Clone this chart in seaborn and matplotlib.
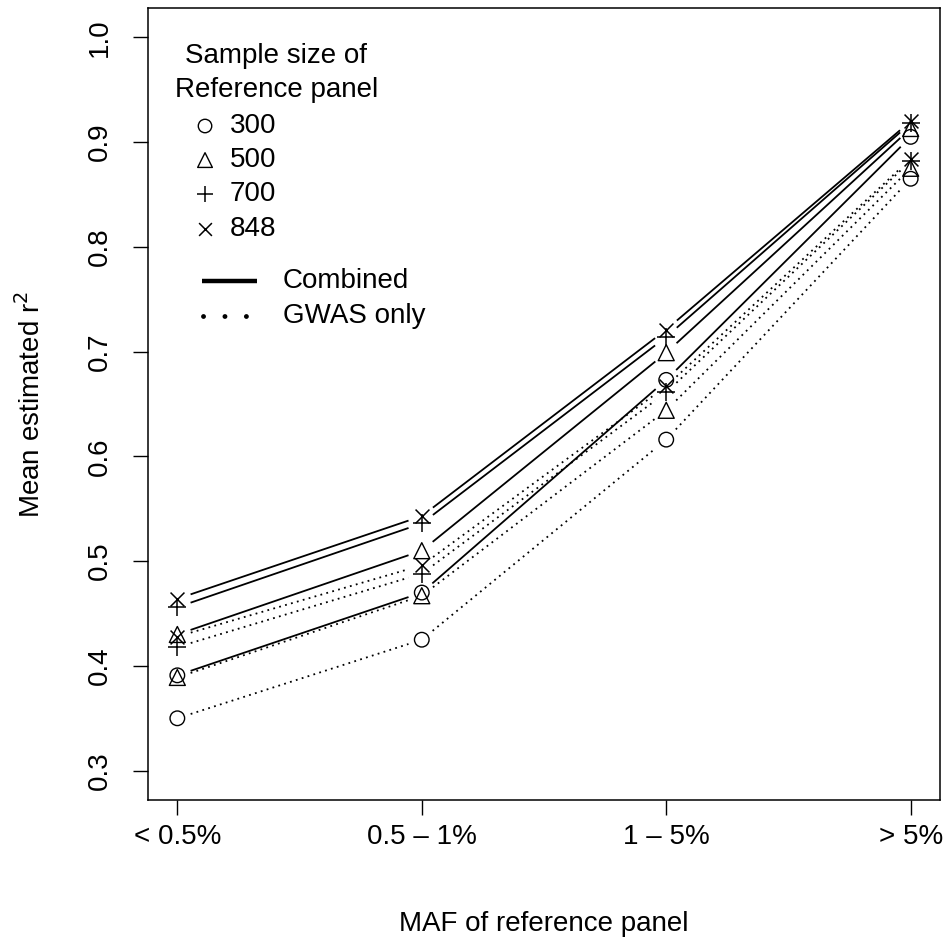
import numpy as np
import pandas as pd
import matplotlib
matplotlib.use("Agg")
import matplotlib.pyplot as plt
import seaborn as sns

# MAF classes of the reference panel and reference-panel sample sizes
maf_labels = ["< 0.5%", "0.5 \u2013 1%", "1 \u2013 5%", "> 5%"]
panel_sizes = [300, 500, 700, 848]

# Mean estimated r^2, imputation with combined panel
combined_300 = [0.391, 0.470, 0.673, 0.905]
combined_500 = [0.430, 0.510, 0.699, 0.913]
combined_700 = [0.456, 0.536, 0.714, 0.918]
combined_848 = [0.464, 0.543, 0.721, 0.920]

# Mean estimated r^2, GWAS samples only
gwas_300 = [0.350, 0.425, 0.616, 0.865]
gwas_500 = [0.389, 0.467, 0.644, 0.875]
gwas_700 = [0.418, 0.488, 0.661, 0.882]
gwas_848 = [0.428, 0.496, 0.667, 0.884]

combined = {300: combined_300, 500: combined_500, 700: combined_700, 848: combined_848}
gwas = {300: gwas_300, 500: gwas_500, 700: gwas_700, 848: gwas_848}

rows = []
for n in panel_sizes:
    for i, lab in enumerate(maf_labels):
        rows.append({"maf": i + 1, "size": n, "method": "Combined", "r2": combined[n][i]})
        rows.append({"maf": i + 1, "size": n, "method": "GWAS only", "r2": gwas[n][i]})
df = pd.DataFrame(rows)

sns.set_style("ticks")
plt.rcParams["font.family"] = ["Liberation Sans", "DejaVu Sans"]
plt.rcParams.update({"text.color": "black", "axes.labelcolor": "black",
                     "xtick.color": "black", "ytick.color": "black"})

W, H = 949, 943
fig = plt.figure(figsize=(W / 100, H / 100), dpi=100)
ax = fig.add_axes([148 / W, 1 - 800 / H, 792 / W, 792 / H])
ax.set_xlim(0.88, 4.12)
ax.set_ylim(0.272, 1.028)

marker_style = {
    300: dict(marker="o", s=10.5 ** 2, facecolors="none", edgecolors="black", linewidths=1.0),
    500: dict(marker="^", s=11.5 ** 2, facecolors="none", edgecolors="black", linewidths=1.0),
    700: dict(marker="+", s=13 ** 2, color="black", linewidths=1.1),
    848: dict(marker="x", s=10 ** 2, color="black", linewidths=1.1),
}


def gapped_line(xs, ys, gap_px, **kw):
    """Line through the points, leaving a gap around each point (R type='b')."""
    pts = ax.transData.transform(np.column_stack([xs, ys]))
    inv = ax.transData.inverted()
    for p0, p1 in zip(pts[:-1], pts[1:]):
        d = p1 - p0
        u = d / np.hypot(*d)
        seg = inv.transform(np.vstack([p0 + u * gap_px, p1 - u * gap_px]))
        ax.plot(seg[:, 0], seg[:, 1], color="black", **kw)


for n in panel_sizes:
    sub_c = df[(df["size"] == n) & (df["method"] == "Combined")]
    sub_g = df[(df["size"] == n) & (df["method"] == "GWAS only")]
    gapped_line(sub_c["maf"].values, sub_c["r2"].values, 14, lw=1.3, solid_capstyle="butt")
    gapped_line(sub_g["maf"].values, sub_g["r2"].values, 14, lw=1.3, linestyle=(0, (1, 2.4)))
    sub = df[df["size"] == n]
    sns.scatterplot(data=sub, x="maf", y="r2", ax=ax, legend=False, zorder=3,
                    **marker_style[n])

# axes frame and ticks
for sp in ax.spines.values():
    sp.set_visible(True)
    sp.set_linewidth(1.1)
    sp.set_color("black")
ax.set_xticks([1, 2, 3, 4])
ax.set_xticklabels(maf_labels, fontsize=20)
ax.set_yticks(np.arange(0.3, 1.01, 0.1))
ax.set_yticklabels([f"{v:.1f}" for v in np.arange(0.3, 1.01, 0.1)],
                   fontsize=20, rotation=90, va="center")
ax.tick_params(axis="both", direction="out", length=11, width=1.0, color="black")
ax.tick_params(axis="x", pad=6)
ax.tick_params(axis="y", pad=14)
ax.set_xlabel("MAF of reference panel", fontsize=20, labelpad=44)
ax.set_ylabel("Mean estimated r$^2$", fontsize=20, labelpad=30)
ax.grid(False)

# legend: sample size of reference panel
ax.text(0.162, 0.940, "Sample size of", transform=ax.transAxes, ha="center", va="center", fontsize=20)
ax.text(0.162, 0.896, "Reference panel", transform=ax.transAxes, ha="center", va="center", fontsize=20)
leg_y = [0.851, 0.808, 0.765, 0.721]
for n, yy in zip(panel_sizes, leg_y):
    st = marker_style[n]
    ax.scatter([0.072], [yy], transform=ax.transAxes, clip_on=False, zorder=4,
               **{k: v for k, v in st.items() if k != "s"}, s=st["s"] * 0.85)
    ax.text(0.103, yy, str(n), transform=ax.transAxes, ha="left", va="center", fontsize=20)

# legend: line types
ax.plot([0.068, 0.137], [0.655, 0.655], transform=ax.transAxes, color="black", lw=3.2,
        solid_capstyle="butt")
ax.plot([0.0695, 0.137], [0.611, 0.611], transform=ax.transAxes, color="black", lw=3.5,
        linestyle=(0, (0.01, 4.4)), dash_capstyle="round")
ax.text(0.170, 0.655, "Combined", transform=ax.transAxes, ha="left", va="center", fontsize=20)
ax.text(0.170, 0.611, "GWAS only", transform=ax.transAxes, ha="left", va="center", fontsize=20)

fig.savefig("out.png", dpi=100)
